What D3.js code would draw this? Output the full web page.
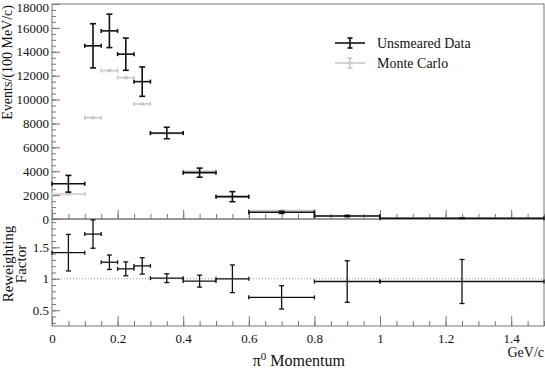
<!DOCTYPE html>
<html>
<head>
    <meta charset="utf-8">
    <style>
        body { margin: 0; background: white; }
        svg { display: block; }
        text { font-family: 'Liberation Serif', 'DejaVu Serif', serif; }
        .frame { fill: none; stroke: #777; stroke-width: 1; }
        .axis path { display: none; }
        .axis line { stroke: #777; }
    </style>
</head>
<body>
<svg width="545" height="368"></svg>

<script src="https://d3js.org/d3.v7.min.js"></script>
<script>
    // bin edges (GeV/c)
    let binLo = [0, 0.1, 0.15, 0.2, 0.25, 0.3, 0.4, 0.5, 0.6, 0.8, 1.0]
    let binHi = [0.1, 0.15, 0.2, 0.25, 0.3, 0.4, 0.5, 0.6, 0.8, 1.0, 1.5]

    // unsmeared data, events / 100 MeV/c
    let dataVal = [2950, 14500, 15750, 13800, 11500, 7200, 3880, 1870, 560, 250, 60]
    let dataErr = [700, 1850, 1400, 1350, 1230, 480, 380, 420, 90, 50, 20]

    // monte carlo
    let mcVal = [2090, 8480, 12420, 11830, 9630, 7150, 4000, 1870, 700, 270, 62]
    let mcErr = [40, 60, 70, 70, 60, 50, 40, 30, 20, 10, 5]

    // reweighting factor
    let ratioVal = [1.415, 1.71, 1.263, 1.158, 1.205, 1.01, 0.963, 1.0, 0.705, 0.957, 0.957]
    let ratioErr = [0.29, 0.225, 0.115, 0.11, 0.13, 0.07, 0.095, 0.22, 0.185, 0.33, 0.35]

    let xTicks = [0, 0.2, 0.4, 0.6, 0.8, 1, 1.2, 1.4]
    let yTopTicks = [0, 2000, 4000, 6000, 8000, 10000, 12000, 14000, 16000, 18000]
    let yBotTicks = [0.5, 1, 1.5]

    let serif = "'Liberation Serif', 'DejaVu Serif', serif"
    let svg = d3.select("svg")

    let left = 52, right = 544
    let x = d3.scaleLinear().domain([0, 1.5]).range([left, right])
    let yTop = d3.scaleLinear().domain([0, 18000]).range([219, 4])
    let yBot = d3.scaleLinear().domain([0.25, 1.95]).range([326, 219])

    let minorX = d3.range(0, 1.5001, 0.05)
    let minorTop = d3.range(0, 18001, 500)
    let minorBot = d3.range(0.3, 1.95, 0.1)

    function styleLabels(sel) {
        sel.attr("font-family", null)
        sel.selectAll("text")
            .style("font-family", serif)
            .style("font-size", "13px")
            .style("fill", "#111")
    }

    // ---- axes top panel
    svg.append("g").attr("class", "axis")
        .attr("transform", "translate(" + left + ",0)")
        .call(d3.axisLeft(yTop).tickValues(minorTop).tickSize(-4).tickFormat(""))
    let yl = svg.append("g").attr("class", "axis")
        .attr("transform", "translate(" + left + ",0)")
        .call(d3.axisLeft(yTop).tickValues(yTopTicks).tickSize(-8).tickPadding(3).tickFormat(d3.format("d")))
    styleLabels(yl)
    // keep the top label inside the picture
    yl.selectAll("text").filter(d => d === 18000).attr("dy", "0.32em").attr("y", 0)
    yl.selectAll(".tick").filter(d => d === 18000).select("text").attr("transform", "translate(0,3)")
    svg.append("g").attr("class", "axis")
        .attr("transform", "translate(0,219)")
        .call(d3.axisBottom(x).tickValues(minorX).tickSize(-5).tickFormat(""))
    svg.append("g").attr("class", "axis")
        .attr("transform", "translate(0,219)")
        .call(d3.axisBottom(x).tickValues(xTicks).tickSize(-9).tickFormat(""))

    // ---- axes bottom panel
    svg.append("g").attr("class", "axis")
        .attr("transform", "translate(" + left + ",0)")
        .call(d3.axisLeft(yBot).tickValues(minorBot).tickSize(-4).tickFormat(""))
    let yb = svg.append("g").attr("class", "axis")
        .attr("transform", "translate(" + left + ",0)")
        .call(d3.axisLeft(yBot).tickValues(yBotTicks).tickSize(-8).tickPadding(3).tickFormat(d => d))
    styleLabels(yb)
    svg.append("g").attr("class", "axis")
        .attr("transform", "translate(0,326)")
        .call(d3.axisBottom(x).tickValues(minorX).tickSize(-5).tickFormat(""))
    let xb = svg.append("g").attr("class", "axis")
        .attr("transform", "translate(0,326)")
        .call(d3.axisBottom(x).tickValues(xTicks).tickSize(-10).tickPadding(7.5).tickFormat(d => d))
    styleLabels(xb)

    // frames
    svg.append("rect").attr("class", "frame")
        .attr("x", x(0)).attr("y", yTop(18000))
        .attr("width", x(1.5) - x(0)).attr("height", yTop(0) - yTop(18000))
    svg.append("rect").attr("class", "frame")
        .attr("x", x(0)).attr("y", yBot(1.95))
        .attr("width", x(1.5) - x(0)).attr("height", yBot(0.25) - yBot(1.95))

    // reference line at 1
    svg.append("line")
        .attr("x1", x(0)).attr("x2", x(1.5))
        .attr("y1", yBot(1)).attr("y2", yBot(1))
        .style("stroke", "#999").style("stroke-width", 1).style("stroke-dasharray", "1,2")

    // error bar helper
    function errBars(g, vals, errs, yScale, color, width, cap) {
        let rows = vals.map((v, i) => ({ lo: binLo[i], hi: binHi[i], v: v, e: errs[i] }))
        let grp = g.append("g").style("stroke", color).style("stroke-width", width).style("fill", "none")
        rows.forEach(d => {
            let xc = x((d.lo + d.hi) / 2)
            let yc = yScale(d.v)
            grp.append("line").attr("x1", x(d.lo)).attr("x2", x(d.hi)).attr("y1", yc).attr("y2", yc)
            grp.append("line").attr("x1", x(d.lo)).attr("x2", x(d.lo)).attr("y1", yc - 2).attr("y2", yc + 2)
            grp.append("line").attr("x1", x(d.hi)).attr("x2", x(d.hi)).attr("y1", yc - 2).attr("y2", yc + 2)
            grp.append("line").attr("x1", xc).attr("x2", xc).attr("y1", yScale(d.v + d.e)).attr("y2", yScale(d.v - d.e))
            grp.append("line").attr("x1", xc - cap).attr("x2", xc + cap).attr("y1", yScale(d.v + d.e)).attr("y2", yScale(d.v + d.e))
            grp.append("line").attr("x1", xc - cap).attr("x2", xc + cap).attr("y1", yScale(d.v - d.e)).attr("y2", yScale(d.v - d.e))
        })
    }

    errBars(svg, mcVal, mcErr, yTop, "#c8c8c8", 1.6, 2)
    errBars(svg, dataVal, dataErr, yTop, "#111", 1.6, 3)
    errBars(svg, ratioVal, ratioErr, yBot, "#111", 1.3, 2.5)

    // legend
    let legend = [
        { label: "Unsmeared Data", color: "#111", y: 43 },
        { label: "Monte Carlo", color: "#c8c8c8", y: 63 }
    ]
    let lg = svg.append("g")
    legend.forEach(d => {
        let g = lg.append("g").style("stroke", d.color).style("stroke-width", 1.6)
        g.append("line").attr("x1", 335).attr("x2", 365).attr("y1", d.y).attr("y2", d.y)
        g.append("line").attr("x1", 350).attr("x2", 350).attr("y1", d.y - 5).attr("y2", d.y + 5)
        g.append("line").attr("x1", 347.5).attr("x2", 352.5).attr("y1", d.y - 5).attr("y2", d.y - 5)
        g.append("line").attr("x1", 347.5).attr("x2", 352.5).attr("y1", d.y + 5).attr("y2", d.y + 5)
        lg.append("text").attr("x", 377).attr("y", d.y + 5)
            .style("font-size", "14px").style("fill", "#111").text(d.label)
    })

    // axis titles
    svg.append("text")
        .attr("transform", "translate(12,5) rotate(-90)")
        .attr("text-anchor", "end")
        .style("font-size", "14px").style("fill", "#111")
        .text("Events/(100 MeV/c)")

    svg.append("text")
        .attr("transform", "translate(13,264) rotate(-90)")
        .attr("text-anchor", "middle")
        .style("font-size", "15px").style("fill", "#111")
        .text("Reweighting")
    svg.append("text")
        .attr("transform", "translate(26,264) rotate(-90)")
        .attr("text-anchor", "middle")
        .style("font-size", "15px").style("fill", "#111")
        .text("Factor")

    let xt = svg.append("text")
        .attr("x", 345).attr("y", 366)
        .attr("text-anchor", "end")
        .style("font-size", "16px").style("fill", "#111")
    xt.append("tspan").text("π")
    xt.append("tspan").attr("dy", -6).style("font-size", "11px").text("0")
    xt.append("tspan").attr("dy", 6).text(" Momentum")

    svg.append("text")
        .attr("x", 544).attr("y", 357)
        .attr("text-anchor", "end")
        .style("font-size", "14px").style("fill", "#111")
        .text("GeV/c")
</script>
</body>
</html>
